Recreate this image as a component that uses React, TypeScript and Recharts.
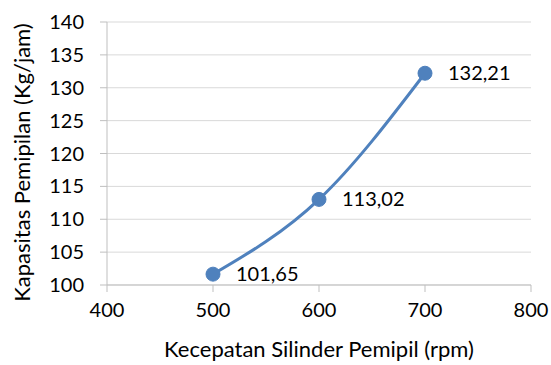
import React from 'react';
import { LineChart, Line, XAxis, YAxis, CartesianGrid, LabelList } from 'recharts';

const speeds = [500, 600, 700];
const capacity = [101.65, 113.02, 132.21];
const xTicks = [400, 500, 600, 700, 800];
const yTicks = [100, 105, 110, 115, 120, 125, 130, 135, 140];

const data = speeds.map((s, i) => ({ speed: s, cap: capacity[i] }));

const font = 'Lato, "Open Sans", sans-serif';
const axisColor = '#bfbfbf';

// y title, rotated, placed by hand relative to the axis box
const YTitle = (props: any) => {
  const { viewBox } = props;
  const cx = viewBox.x + 21;
  const cy = viewBox.y + viewBox.height / 2 + 9;
  return (
    <text
      x={cx}
      y={cy}
      transform={`rotate(-90, ${cx}, ${cy})`}
      textAnchor="middle"
      dominantBaseline="central"
      fill="#000"
      fontSize={22}
      fontFamily={font}
    >
      Kapasitas Pemipilan (Kg/jam)
    </text>
  );
};

const App = () => {
  return (
    <div style={{ position: 'absolute', left: 0, top: 0, fontFamily: font }}>
      <LineChart
        width={551}
        height={365}
        data={data}
        margin={{ top: 22, right: 20, left: 0, bottom: 0 }}
      >
        <CartesianGrid horizontal={true} vertical={false} stroke="#d9d9d9" strokeWidth={1} />
        <XAxis
          dataKey="speed"
          type="number"
          domain={[400, 800]}
          ticks={xTicks}
          height={80}
          stroke={axisColor}
          tickSize={7}
          tickMargin={11}
          tick={{ fill: '#000', fontSize: 20, fontFamily: font }}
          label={{ value: 'Kecepatan Silinder Pemipil (rpm)', position: 'insideBottom', offset: 8, fill: '#000', fontSize: 22, fontFamily: font }}
        />
        <YAxis
          type="number"
          domain={[100, 140]}
          ticks={yTicks}
          width={107}
          stroke={axisColor}
          tickSize={7}
          tickMargin={16}
          tick={{ fill: '#000', fontSize: 20, fontFamily: font }}
          label={<YTitle />}
        />
        <Line
          dataKey="cap"
          type="monotone"
          stroke="#4F81BD"
          strokeWidth={3}
          dot={{ r: 7, fill: '#4F81BD', stroke: '#4F81BD', strokeWidth: 1 }}
          isAnimationActive={false}
        >
          <LabelList
            dataKey="cap"
            position="right"
            offset={23}
            formatter={(v: number) => v.toFixed(2).replace('.', ',')}
            style={{ fill: '#000', fontSize: 20, fontFamily: font }}
          />
        </Line>
      </LineChart>
    </div>
  );
};

export default App;
